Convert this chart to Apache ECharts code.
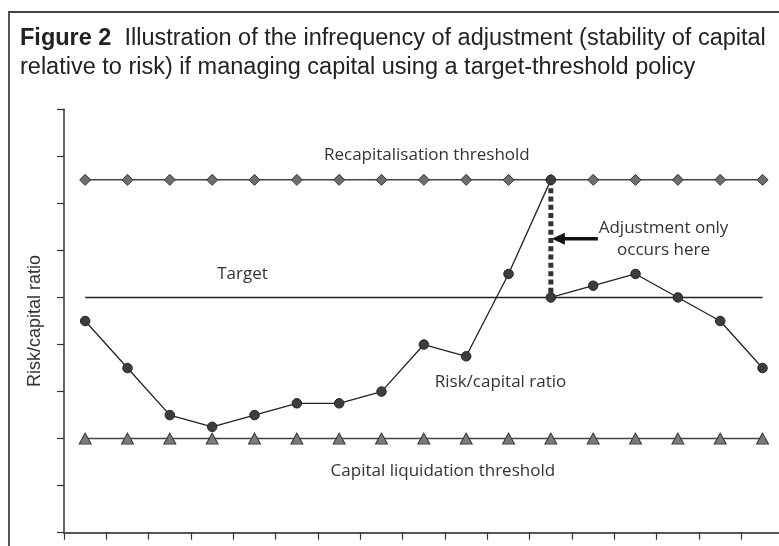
<!DOCTYPE html>
<html>
<head>
<meta charset="utf-8">
<script src="https://cdn.jsdelivr.net/npm/echarts@6/dist/echarts.min.js"></script>
<style>
  body { margin: 0; overflow: hidden; background: #fff; }
  #frame { position: absolute; left: 8px; top: 11px; width: 800px; height: 560px;
           border-top: 2px solid #444; border-left: 2px solid #555; }
  #main { position: absolute; left: 0; top: 0; width: 790px; height: 546px; }
</style>
</head>
<body>
<div id="frame"></div>
<div id="main"></div>
<script>
// periods along the x axis (labels hidden in the original)
const periods = ['1', '2', '3', '4', '5', '6', '7', '8', '9', '10', '11', '12', '13', '14', '15', '16', '17']

const recapThreshold = [7.5, 7.5, 7.5, 7.5, 7.5, 7.5, 7.5, 7.5, 7.5, 7.5, 7.5, 7.5, 7.5, 7.5, 7.5, 7.5, 7.5]
const targetLevel = [5, 5, 5, 5, 5, 5, 5, 5, 5, 5, 5, 5, 5, 5, 5, 5, 5]
const liquidationThreshold = [2, 2, 2, 2, 2, 2, 2, 2, 2, 2, 2, 2, 2, 2, 2, 2, 2]

// risk/capital ratio before the adjustment (periods 1-12)
const ratioBefore = [4.5, 3.5, 2.5, 2.25, 2.5, 2.75, 2.75, 3.0, 4.0, 3.75, 5.5, 7.5, '-', '-', '-', '-', '-']
// after the adjustment back to target (periods 12-17)
const ratioAfter = ['-', '-', '-', '-', '-', '-', '-', '-', '-', '-', '-', 5.0, 5.25, 5.5, 5.0, 4.5, 3.5]

// the adjustment drop at period 12
const adjustIndex = 11
const adjustFrom = 7.5
const adjustTo = 4.88

const yTicks = [0, 1, 2, 3, 4, 5, 6, 7, 8, 9]

const labelFont = '"Open Sans", sans-serif'

let myChart = echarts.init(document.getElementById('main'))

let option = {
  animation: false,
  backgroundColor: 'transparent',
  title: {
    left: 15,
    top: 19,
    text: '{b|Figure 2}  Illustration of the infrequency of adjustment (stability of capital\nrelative to risk) if managing capital using a target-threshold policy',
    textStyle: {
      fontFamily: '"Liberation Sans", sans-serif',
      fontSize: 23.5,
      fontWeight: 'normal',
      color: '#222',
      lineHeight: 29,
      rich: {
        b: { fontFamily: '"Liberation Sans", sans-serif', fontSize: 23.5, fontWeight: 'bold', color: '#222', lineHeight: 29 }
      }
    }
  },
  grid: {
    left: 64,
    right: 6.3,
    top: 109.3,
    bottom: 13.3
  },
  xAxis: {
    type: 'category',
    data: periods,
    boundaryGap: true,
    axisLine: { lineStyle: { color: '#555', width: 2 } },
    axisTick: { show: true, length: 7, lineStyle: { color: '#333', width: 1.2 } },
    axisLabel: { show: false },
    splitLine: { show: false }
  },
  yAxis: {
    type: 'value',
    min: yTicks[0],
    max: yTicks[yTicks.length - 1],
    interval: 1,
    name: 'Risk/capital ratio',
    nameLocation: 'middle',
    nameGap: 20,
    nameTextStyle: { fontFamily: '"Liberation Sans", sans-serif', fontSize: 18, color: '#333' },
    axisLine: { show: true, lineStyle: { color: '#333', width: 1.5 } },
    axisTick: { show: true, length: 7, lineStyle: { color: '#333', width: 1.2 } },
    axisLabel: { show: false },
    splitLine: { show: false }
  },
  series: [
    {
      name: 'Adjustment',
      type: 'line',
      data: [[adjustIndex, adjustFrom], [adjustIndex, adjustTo]],
      symbol: 'none',
      z: 1,
      lineStyle: { color: '#333', width: 5, type: [5, 3.3], cap: 'butt' }
    },
    {
      name: 'Recapitalisation threshold',
      type: 'line',
      data: recapThreshold,
      symbol: 'diamond',
      symbolSize: [11, 11],
      z: 3,
      lineStyle: { color: '#444', width: 1.5 },
      itemStyle: { color: '#6e6e6e', borderColor: '#333', borderWidth: 1 }
    },
    {
      name: 'Target',
      type: 'line',
      data: targetLevel,
      symbol: 'none',
      z: 2,
      lineStyle: { color: '#222', width: 1.5 }
    },
    {
      name: 'Capital liquidation threshold',
      type: 'line',
      data: liquidationThreshold,
      symbol: 'triangle',
      symbolSize: [12, 11],
      z: 3,
      lineStyle: { color: '#444', width: 1.5 },
      itemStyle: { color: '#7a7a7a', borderColor: '#333', borderWidth: 1 }
    },
    {
      name: 'Risk/capital ratio',
      type: 'line',
      data: ratioBefore,
      symbol: 'circle',
      symbolSize: 9.5,
      z: 4,
      lineStyle: { color: '#222', width: 1.3 },
      itemStyle: { color: '#3d3d3d', borderColor: '#222', borderWidth: 1 }
    },
    {
      name: 'Risk/capital ratio (after)',
      type: 'line',
      data: ratioAfter,
      symbol: 'circle',
      symbolSize: 9.5,
      z: 4,
      lineStyle: { color: '#222', width: 1.3 },
      itemStyle: { color: '#3d3d3d', borderColor: '#222', borderWidth: 1 }
    }
  ]
}

myChart.setOption(option)

// annotations, anchored to data points
const at = (idx, val) => myChart.convertToPixel({ xAxisIndex: 0, yAxisIndex: 0 }, [idx, val])
const label = (text, p, dx, dy) => ({
  type: 'text',
  x: p[0] + dx,
  y: p[1] + dy,
  style: { text: text, font: '17px ' + labelFont, fill: '#333', align: 'center', verticalAlign: 'middle' },
  z: 10
})

let a = at(adjustIndex, 6.25)
myChart.setOption({
  graphic: [
    label('Recapitalisation threshold', at(8, 7.5), 3, -25),
    label('Target', at(4, 5), -12, -23),
    label('Risk/capital ratio', at(10, 2.75), -8, -21),
    label('Capital liquidation threshold', at(8, 2), 19, 33),
    label('Adjustment only', at(13, 6.25), 28, -11),
    label('occurs here', at(13, 6.25), 28, 11),
    {
      type: 'line',
      shape: { x1: a[0] + 12, y1: a[1], x2: a[0] + 47, y2: a[1] },
      style: { stroke: '#111', lineWidth: 3.5 },
      z: 10
    },
    {
      type: 'polygon',
      shape: { points: [[a[0] + 1, a[1]], [a[0] + 14, a[1] - 6], [a[0] + 14, a[1] + 6]] },
      style: { fill: '#111' },
      z: 10
    }
  ]
})
</script>
</body>
</html>
